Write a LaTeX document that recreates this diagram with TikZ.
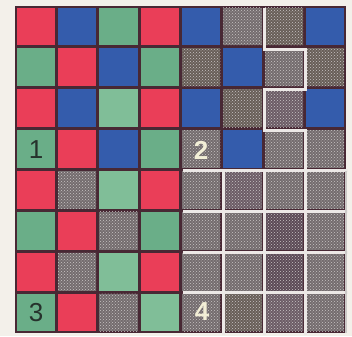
\documentclass[tikz,border=0pt]{standalone}
\usepackage{fontspec}
\setmainfont{Liberation Sans}
\usetikzlibrary{patterns}
\definecolor{paper}{RGB}{243,240,234}
\definecolor{gapc}{RGB}{72,40,52}
\definecolor{cR}{RGB}{234,62,88}
\definecolor{cG}{RGB}{106,174,136}
\definecolor{cL}{RGB}{128,190,152}
\definecolor{cB}{RGB}{52,92,172}
\definecolor{cY}{RGB}{116,108,110}
\definecolor{cM}{RGB}{108,92,102}
\definecolor{cN}{RGB}{104,94,88}
\definecolor{cD}{RGB}{92,74,86}
\definecolor{dotc}{RGB}{200,196,196}
\definecolor{wline}{RGB}{236,232,230}
\definecolor{darklbl}{RGB}{38,50,44}
\definecolor{lightlbl}{RGB}{242,238,214}
\def\cellR{R}\def\cellG{G}\def\cellL{L}\def\cellB{B}
\tikzset{
  wpath/.style={draw=wline,line width=3pt,line cap=rect,line join=miter},
  lbl/.style={font=\fontsize{26}{26}\selectfont,inner sep=0pt,anchor=center},
}
\begin{document}
\begin{tikzpicture}[x=1pt,y=-1pt]
\useasboundingbox (0,0) rectangle (352,336);
\fill[paper] (0,0) rectangle (352,336);
\fill[gapc] (15,6) rectangle (346,333);
\foreach \rowlist [count=\ri] in {
  {R,B,G,R,B,Y,N,B},
  {G,R,B,G,N,B,Y,N},
  {R,B,L,R,B,N,M,B},
  {G,R,B,G,Y,B,Y,Y},
  {R,Y,L,R,Y,M,Y,Y},
  {G,R,Y,G,Y,Y,D,Y},
  {R,Y,L,R,Y,Y,D,Y},
  {G,R,Y,L,Y,N,M,Y}}{
  \foreach \c [count=\ci] in \rowlist {
    \pgfmathsetmacro\xa{15+(\ci-1)*41.375+1.6}
    \pgfmathsetmacro\xb{15+\ci*41.375-1.6}
    \pgfmathsetmacro\ya{6+(\ri-1)*40.875+1.6}
    \pgfmathsetmacro\yb{6+\ri*40.875-1.6}
    \fill[c\c] (\xa,\ya) rectangle (\xb,\yb);
    \ifx\c\cellR\else\ifx\c\cellG\else\ifx\c\cellL\else\ifx\c\cellB\else
      \fill[pattern=crosshatch dots,pattern color=dotc] (\xa,\ya) rectangle (\xb,\yb);
    \fi\fi\fi\fi
  }
}
% white staircase path in upper right
\draw[wpath] (264.5,10) -- (264.5,50) -- (305,50) -- (305,90) -- (264.5,90) -- (264.5,131) -- (305,131) -- (305,171);
% white grid in lower right
\draw[wpath] (184,171) -- (346,171);
\foreach \yy in {211,252,292} \draw[wpath] (184,\yy) -- (346,\yy);
\foreach \xx in {223,264.5,305} \draw[wpath] (\xx,171) -- (\xx,333);
\draw[draw=wline!70!gray,line width=2pt] (345.5,171) -- (345.5,333);
% labels
\node[lbl,text=darklbl] (n1) at (36,150) {1};
\node[lbl,text=lightlbl,font=\fontsize{26}{26}\selectfont\bfseries] (n2) at (201,150) {2};
\node[lbl,text=darklbl] (n3) at (36,313) {3};
\node[lbl,text=lightlbl,font=\fontsize{26}{26}\selectfont\bfseries] (n4) at (202,312) {4};
\end{tikzpicture}
\end{document}
